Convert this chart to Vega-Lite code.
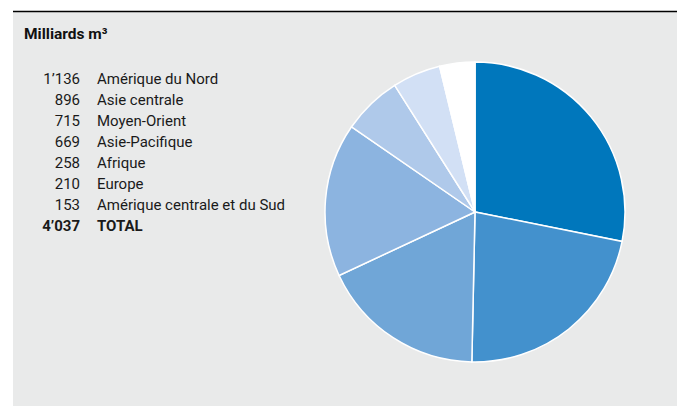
{
  "$schema": "https://vega.github.io/schema/vega-lite/v6.json",
  "width": 664,
  "height": 395,
  "autosize": {"type": "none"},
  "padding": {"left": 13, "top": 11, "right": 0, "bottom": 0},
  "background": "#ffffff",
  "config": {
    "view": {"fill": "#E9EAEA", "stroke": null},
    "font": "Roboto",
    "locale": {"number": {"decimal": ".", "thousands": "’", "grouping": [3], "currency": ["", ""]}}
  },
  "datasets": {
    "gas": [
      {"region": "Amérique du Nord", "value": 1136},
      {"region": "Asie centrale", "value": 896},
      {"region": "Moyen-Orient", "value": 715},
      {"region": "Asie-Pacifique", "value": 669},
      {"region": "Afrique", "value": 258},
      {"region": "Europe", "value": 210},
      {"region": "Amérique centrale et du Sud", "value": 153},
      {"region": "TOTAL", "value": 4037}
    ]
  },
  "layer": [
    {
      "data": {"values": [{}]},
      "mark": {"type": "rule", "color": "#000000", "strokeWidth": 1.5},
      "encoding": {"y": {"value": 0.5}}
    },
    {
      "data": {"values": [{"label": "Milliards m³"}]},
      "mark": {"type": "text", "align": "left", "baseline": "alphabetic", "fontSize": 15.5, "fontWeight": "bold", "color": "#111111"},
      "encoding": {"x": {"value": 11}, "y": {"value": 28}, "text": {"field": "label"}}
    },
    {
      "data": {"name": "gas"},
      "transform": [{"filter": "datum.region !== 'TOTAL'"}],
      "mark": {"type": "arc", "radius": 150, "stroke": "#ffffff", "strokeWidth": 1.5},
      "encoding": {
        "theta": {"field": "value", "type": "quantitative", "stack": true},
        "order": {"field": "value", "sort": "descending"},
        "color": {
          "field": "region",
          "type": "nominal",
          "scale": {
            "domain": ["Amérique du Nord", "Asie centrale", "Moyen-Orient", "Asie-Pacifique", "Afrique", "Europe", "Amérique centrale et du Sud"],
            "range": ["#0077BC", "#4391CD", "#70A6D7", "#8CB4E0", "#AFC9EA", "#D2E0F5", "#FFFFFF"]
          },
          "legend": null
        },
        "x": {"value": 462},
        "y": {"value": 201}
      }
    },
    {
      "data": {"name": "gas"},
      "mark": {"type": "text", "align": "right", "baseline": "alphabetic", "fontSize": 15, "color": "#1a1a1a",
        "fontWeight": {"expr": "datum.region === 'TOTAL' ? 'bold' : 'normal'"}},
      "encoding": {
        "x": {"value": 67},
        "y": {"field": "region", "type": "nominal", "scale": {"type": "point", "padding": 0, "domain": ["Amérique du Nord", "Asie centrale", "Moyen-Orient", "Asie-Pacifique", "Afrique", "Europe", "Amérique centrale et du Sud", "TOTAL"], "range": [72.5, 219.5]}, "axis": null},
        "text": {"field": "value", "type": "quantitative", "format": ",d"}
      }
    },
    {
      "data": {"name": "gas"},
      "mark": {"type": "text", "align": "left", "baseline": "alphabetic", "fontSize": 15, "color": "#1a1a1a",
        "fontWeight": {"expr": "datum.region === 'TOTAL' ? 'bold' : 'normal'"}},
      "encoding": {
        "x": {"value": 84},
        "y": {"field": "region", "type": "nominal", "scale": {"type": "point", "padding": 0, "domain": ["Amérique du Nord", "Asie centrale", "Moyen-Orient", "Asie-Pacifique", "Afrique", "Europe", "Amérique centrale et du Sud", "TOTAL"], "range": [72.5, 219.5]}, "axis": null},
        "text": {"field": "region", "type": "nominal"}
      }
    }
  ]
}
